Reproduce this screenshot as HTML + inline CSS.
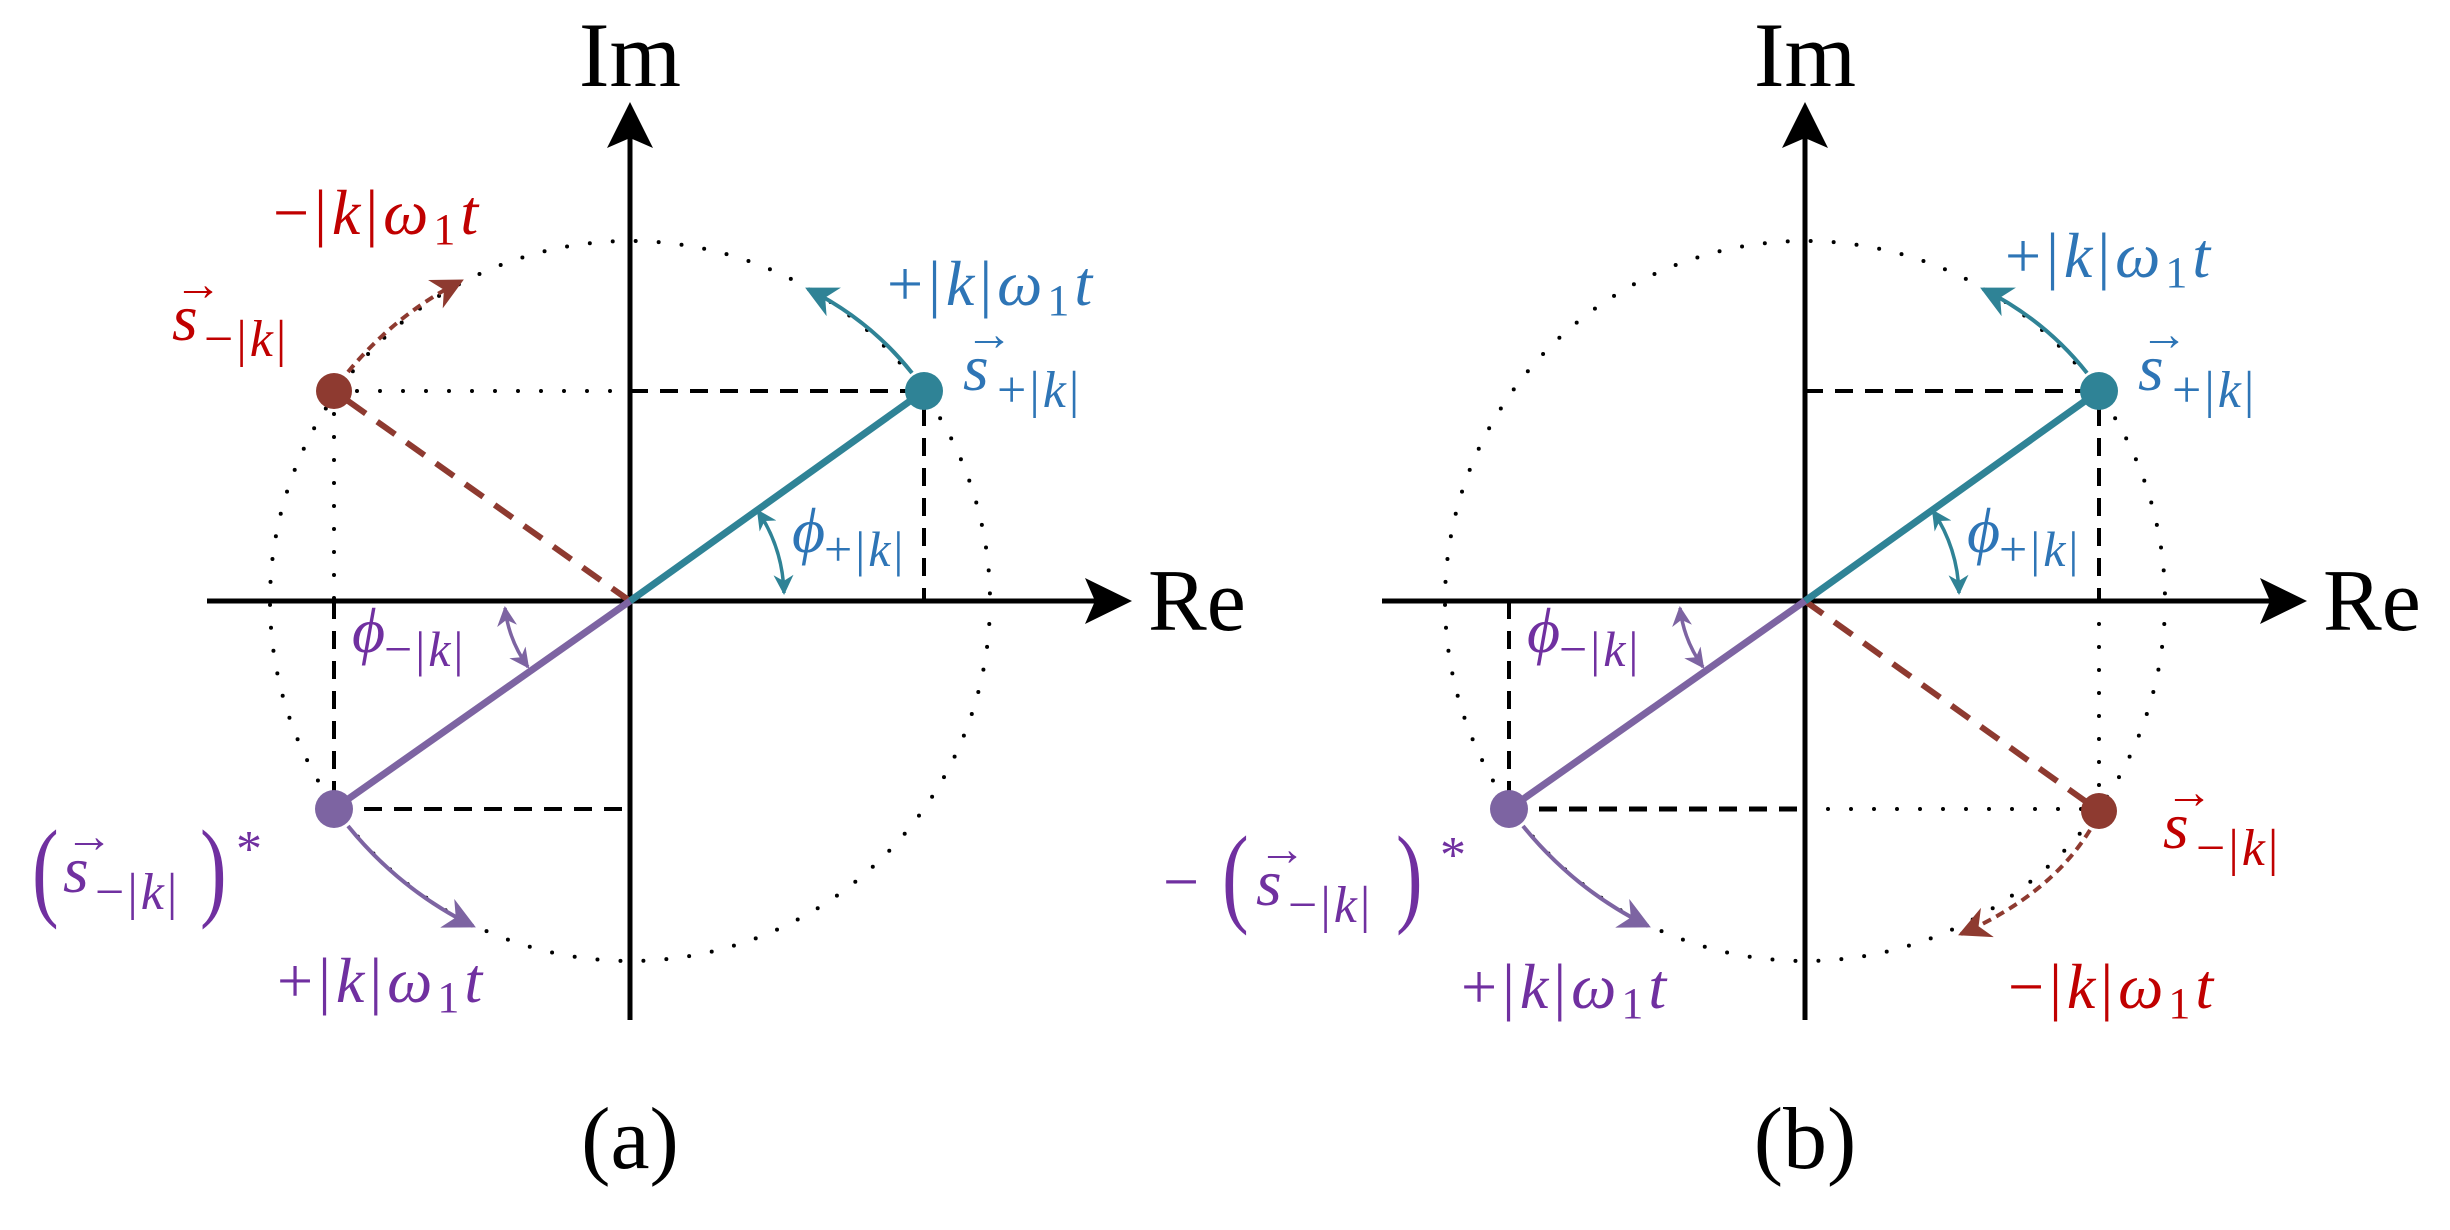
<!DOCTYPE html>
<html><head><meta charset="utf-8"><style>
html,body{margin:0;padding:0;background:#fff;}
svg{display:block;}
text{font-family:"Liberation Serif","DejaVu Serif",serif;}
.m{font-style:italic;}
.w{letter-spacing:5px;}
.s{letter-spacing:3px;}
</style></head><body>
<svg width="2450" height="1230" viewBox="0 0 2450 1230" xmlns="http://www.w3.org/2000/svg">
<defs>
<marker id="ab" viewBox="0 0 10 10" refX="9" refY="5" markerWidth="32" markerHeight="32" markerUnits="userSpaceOnUse" orient="auto"><path d="M0,0 L10,5 L0,10 L3,5 z" fill="#2f8396"/></marker>
<marker id="abs" viewBox="0 0 10 10" refX="9" refY="5" markerWidth="20" markerHeight="20" markerUnits="userSpaceOnUse" orient="auto-start-reverse"><path d="M0,0 L10,5 L0,10 L3,5 z" fill="#2f8396"/></marker>
<marker id="ar" viewBox="0 0 10 10" refX="9" refY="5" markerWidth="32" markerHeight="32" markerUnits="userSpaceOnUse" orient="auto"><path d="M0,0 L10,5 L0,10 L3,5 z" fill="#8e3a30"/></marker>
<marker id="ap" viewBox="0 0 10 10" refX="9" refY="5" markerWidth="32" markerHeight="32" markerUnits="userSpaceOnUse" orient="auto"><path d="M0,0 L10,5 L0,10 L3,5 z" fill="#7d64a2"/></marker>
<marker id="aps" viewBox="0 0 10 10" refX="9" refY="5" markerWidth="20" markerHeight="20" markerUnits="userSpaceOnUse" orient="auto-start-reverse"><path d="M0,0 L10,5 L0,10 L3,5 z" fill="#7d64a2"/></marker>
</defs>

<!-- ============ PANEL (a) ============ -->
<g>
<circle cx="630" cy="601" r="360" fill="none" stroke="#000" stroke-width="4" stroke-dasharray="0 23" stroke-linecap="round"/>
<line x1="334" y1="391" x2="630" y2="391" stroke="#000" stroke-width="4" stroke-dasharray="0 23" stroke-linecap="round"/>
<line x1="334" y1="391" x2="334" y2="601" stroke="#000" stroke-width="4" stroke-dasharray="0 23" stroke-linecap="round"/>
<line x1="630" y1="391" x2="924" y2="391" stroke="#000" stroke-width="4" stroke-dasharray="18 12"/>
<line x1="924" y1="408" x2="924" y2="601" stroke="#000" stroke-width="4" stroke-dasharray="18 12"/>
<line x1="334" y1="601" x2="334" y2="809" stroke="#000" stroke-width="4" stroke-dasharray="18 12"/>
<line x1="334" y1="809" x2="630" y2="809" stroke="#000" stroke-width="4" stroke-dasharray="18 12"/>
<line x1="207" y1="601" x2="1100" y2="601" stroke="#000" stroke-width="5"/>
<polygon points="1132,601 1085,578 1095,601 1085,624" fill="#000"/>
<line x1="630" y1="1020" x2="630" y2="135" stroke="#000" stroke-width="5"/>
<polygon points="630,102 607,148 630,138 653,148" fill="#000"/>
<text x="630" y="86" font-size="92" text-anchor="middle">Im</text>
<text x="1148" y="630" font-size="88">Re</text>
<line x1="630" y1="601" x2="334" y2="391" stroke="#8e3a30" stroke-width="6" stroke-dasharray="22 14"/>
<line x1="630" y1="601" x2="924" y2="391" stroke="#2f8396" stroke-width="7"/>
<line x1="630" y1="601" x2="334" y2="809" stroke="#7d64a2" stroke-width="7"/>
<circle cx="924" cy="391" r="19" fill="#2f8396"/>
<circle cx="334" cy="391" r="18" fill="#8e3a30"/>
<circle cx="334" cy="809" r="19" fill="#7d64a2"/>
<path d="M912,373 Q870,320 808,289" fill="none" stroke="#2f8396" stroke-width="4" marker-end="url(#ab)"/>
<path d="M348,372 Q395,315 461,281" fill="none" stroke="#8e3a30" stroke-width="4" stroke-dasharray="9 6" marker-end="url(#ar)"/>
<path d="M348,826 Q400,890 473,926" fill="none" stroke="#7d64a2" stroke-width="4" marker-end="url(#ap)"/>
<path d="M758,511 A156 156 0 0 1 784,593" fill="none" stroke="#2f8396" stroke-width="3.5" marker-start="url(#abs)" marker-end="url(#abs)"/>
<path d="M505,608 A125 125 0 0 0 528,667" fill="none" stroke="#7d64a2" stroke-width="3.5" marker-start="url(#aps)" marker-end="url(#aps)"/>
<!-- labels -->
<text class="m w" x="273" y="234" font-size="64" fill="#c00000"><tspan font-style="normal">−|</tspan>k<tspan font-style="normal">|</tspan>ω<tspan font-size="44" dy="10" font-style="normal">1</tspan><tspan dy="-10">t</tspan></text>
<text class="m" x="172" y="340" font-size="66" fill="#c00000">s</text>
<text x="174" y="300" font-size="48" fill="#c00000">→</text>
<text class="m s" x="204" y="356" font-size="52" fill="#c00000"><tspan font-style="normal">−|</tspan>k<tspan font-style="normal">|</tspan></text>
<text class="m w" x="887" y="305" font-size="64" fill="#2e75b6"><tspan font-style="normal">+|</tspan>k<tspan font-style="normal">|</tspan>ω<tspan font-size="44" dy="10" font-style="normal">1</tspan><tspan dy="-10">t</tspan></text>
<text class="m" x="963" y="390" font-size="66" fill="#2e75b6">s</text>
<text x="965" y="350" font-size="48" fill="#2e75b6">→</text>
<text class="m s" x="997" y="407" font-size="52" fill="#2e75b6"><tspan font-style="normal">+|</tspan>k<tspan font-style="normal">|</tspan></text>
<text class="m" x="792" y="552" font-size="64" fill="#2e75b6">ϕ</text>
<text class="m s" x="824" y="566" font-size="50" fill="#2e75b6"><tspan font-style="normal">+|</tspan>k<tspan font-style="normal">|</tspan></text>
<text class="m" x="352" y="652" font-size="64" fill="#7030a0">ϕ</text>
<text class="m s" x="384" y="666" font-size="50" fill="#7030a0"><tspan font-style="normal">−|</tspan>k<tspan font-style="normal">|</tspan></text>
<text x="32" y="906" font-size="100" fill="#7030a0" transform="translate(32 906) scale(0.8 1.1) translate(-32 -906)">(</text>
<text class="m" x="63" y="892" font-size="66" fill="#7030a0">s</text>
<text x="65" y="852" font-size="48" fill="#7030a0">→</text>
<text class="m s" x="95" y="909" font-size="52" fill="#7030a0"><tspan font-style="normal">−|</tspan>k<tspan font-style="normal">|</tspan></text>
<text x="200" y="906" font-size="100" fill="#7030a0" transform="translate(200 906) scale(0.8 1.1) translate(-200 -906)">)</text>
<text x="236" y="866" font-size="52" fill="#7030a0">*</text>
<text class="m w" x="277" y="1002" font-size="64" fill="#7030a0"><tspan font-style="normal">+|</tspan>k<tspan font-style="normal">|</tspan>ω<tspan font-size="44" dy="10" font-style="normal">1</tspan><tspan dy="-10">t</tspan></text>
<text x="630" y="1168" font-size="88" text-anchor="middle">(a)</text>
</g>

<!-- ============ PANEL (b) ============ -->
<g>
<circle cx="1805" cy="601" r="360" fill="none" stroke="#000" stroke-width="4" stroke-dasharray="0 23" stroke-linecap="round"/>
<line x1="1805" y1="809" x2="2099" y2="809" stroke="#000" stroke-width="4" stroke-dasharray="0 23" stroke-linecap="round"/>
<line x1="2099" y1="601" x2="2099" y2="809" stroke="#000" stroke-width="4" stroke-dasharray="0 23" stroke-linecap="round"/>
<line x1="1805" y1="391" x2="2099" y2="391" stroke="#000" stroke-width="4" stroke-dasharray="18 12"/>
<line x1="2099" y1="408" x2="2099" y2="601" stroke="#000" stroke-width="4" stroke-dasharray="18 12"/>
<line x1="1509" y1="601" x2="1509" y2="809" stroke="#000" stroke-width="4" stroke-dasharray="18 12"/>
<line x1="1509" y1="809" x2="1805" y2="809" stroke="#000" stroke-width="5" stroke-dasharray="18 12"/>
<line x1="1382" y1="601" x2="2275" y2="601" stroke="#000" stroke-width="5"/>
<polygon points="2307,601 2260,578 2270,601 2260,624" fill="#000"/>
<line x1="1805" y1="1020" x2="1805" y2="135" stroke="#000" stroke-width="5"/>
<polygon points="1805,102 1782,148 1805,138 1828,148" fill="#000"/>
<text x="1805" y="86" font-size="92" text-anchor="middle">Im</text>
<text x="2323" y="630" font-size="88">Re</text>
<line x1="1805" y1="601" x2="2099" y2="811" stroke="#8e3a30" stroke-width="6" stroke-dasharray="22 14"/>
<line x1="1805" y1="601" x2="2099" y2="391" stroke="#2f8396" stroke-width="7"/>
<line x1="1805" y1="601" x2="1509" y2="809" stroke="#7d64a2" stroke-width="7"/>
<circle cx="2099" cy="391" r="19" fill="#2f8396"/>
<circle cx="2099" cy="811" r="18" fill="#8e3a30"/>
<circle cx="1509" cy="809" r="19" fill="#7d64a2"/>
<path d="M2087,373 Q2045,320 1983,289" fill="none" stroke="#2f8396" stroke-width="4" marker-end="url(#ab)"/>
<path d="M2090,830 Q2050,895 1961,934" fill="none" stroke="#8e3a30" stroke-width="4" stroke-dasharray="9 6" marker-end="url(#ar)"/>
<path d="M1523,826 Q1575,890 1648,926" fill="none" stroke="#7d64a2" stroke-width="4" marker-end="url(#ap)"/>
<path d="M1933,511 A156 156 0 0 1 1959,593" fill="none" stroke="#2f8396" stroke-width="3.5" marker-start="url(#abs)" marker-end="url(#abs)"/>
<path d="M1680,608 A125 125 0 0 0 1703,667" fill="none" stroke="#7d64a2" stroke-width="3.5" marker-start="url(#aps)" marker-end="url(#aps)"/>
<text class="m w" x="2005" y="277" font-size="64" fill="#2e75b6"><tspan font-style="normal">+|</tspan>k<tspan font-style="normal">|</tspan>ω<tspan font-size="44" dy="10" font-style="normal">1</tspan><tspan dy="-10">t</tspan></text>
<text class="m" x="2138" y="390" font-size="66" fill="#2e75b6">s</text>
<text x="2140" y="350" font-size="48" fill="#2e75b6">→</text>
<text class="m s" x="2172" y="407" font-size="52" fill="#2e75b6"><tspan font-style="normal">+|</tspan>k<tspan font-style="normal">|</tspan></text>
<text class="m" x="1967" y="552" font-size="64" fill="#2e75b6">ϕ</text>
<text class="m s" x="1999" y="566" font-size="50" fill="#2e75b6"><tspan font-style="normal">+|</tspan>k<tspan font-style="normal">|</tspan></text>
<text class="m" x="1527" y="652" font-size="64" fill="#7030a0">ϕ</text>
<text class="m s" x="1559" y="666" font-size="50" fill="#7030a0"><tspan font-style="normal">−|</tspan>k<tspan font-style="normal">|</tspan></text>
<text class="m" x="2163" y="848" font-size="66" fill="#c00000">s</text>
<text x="2165" y="808" font-size="48" fill="#c00000">→</text>
<text class="m s" x="2196" y="865" font-size="52" fill="#c00000"><tspan font-style="normal">−|</tspan>k<tspan font-style="normal">|</tspan></text>
<text class="m w" x="2008" y="1008" font-size="64" fill="#c00000"><tspan font-style="normal">−|</tspan>k<tspan font-style="normal">|</tspan>ω<tspan font-size="44" dy="10" font-style="normal">1</tspan><tspan dy="-10">t</tspan></text>
<text x="1163" y="903" font-size="64" fill="#7030a0">−</text>
<text x="1222" y="912" font-size="100" fill="#7030a0" transform="translate(1222 912) scale(0.8 1.1) translate(-1222 -912)">(</text>
<text class="m" x="1256" y="905" font-size="66" fill="#7030a0">s</text>
<text x="1258" y="865" font-size="48" fill="#7030a0">→</text>
<text class="m s" x="1288" y="922" font-size="52" fill="#7030a0"><tspan font-style="normal">−|</tspan>k<tspan font-style="normal">|</tspan></text>
<text x="1396" y="912" font-size="100" fill="#7030a0" transform="translate(1396 912) scale(0.8 1.1) translate(-1396 -912)">)</text>
<text x="1440" y="872" font-size="52" fill="#7030a0">*</text>
<text class="m w" x="1461" y="1008" font-size="64" fill="#7030a0"><tspan font-style="normal">+|</tspan>k<tspan font-style="normal">|</tspan>ω<tspan font-size="44" dy="10" font-style="normal">1</tspan><tspan dy="-10">t</tspan></text>
<text x="1805" y="1168" font-size="88" text-anchor="middle">(b)</text>
</g>
</svg>
</body></html>
